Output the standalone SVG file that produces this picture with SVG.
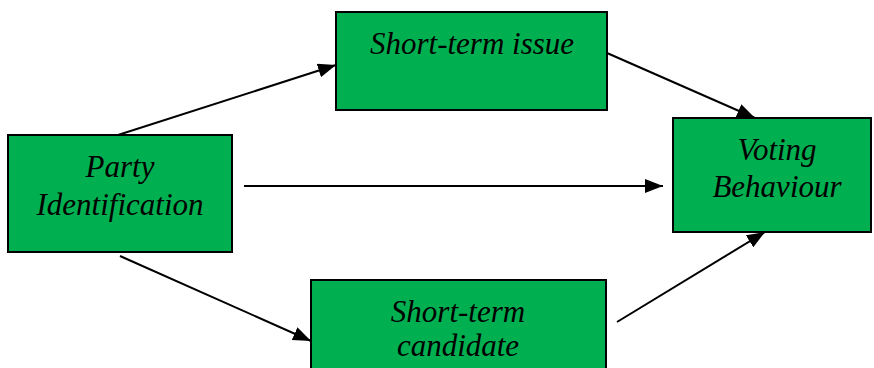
<svg xmlns="http://www.w3.org/2000/svg" width="874" height="368" viewBox="0 0 874 368">
  <defs>
    <marker id="arrow" viewBox="0 0 18 14" refX="18" refY="7" markerWidth="18" markerHeight="14" markerUnits="userSpaceOnUse" orient="auto">
      <path d="M0,0 L18,7 L0,14 Z" fill="#000"/>
    </marker>
  </defs>
  <style>
    .box { fill: #00B050; stroke: #000; stroke-width: 2; }
    .lbl { font-family: "Liberation Serif", "Times New Roman", serif; font-style: italic; font-size: 31px; fill: #000; text-anchor: middle; }
    .edge { stroke: #000; stroke-width: 2; fill: none; marker-end: url(#arrow); }
  </style>
  <rect width="874" height="368" fill="#fff"/>

  <g id="connectors">
    <line class="edge" x1="118" y1="135" x2="336" y2="65"/>
    <line class="edge" x1="244" y1="186" x2="663" y2="186"/>
    <line class="edge" x1="120" y1="256" x2="311" y2="341"/>
    <line class="edge" x1="607" y1="53" x2="755" y2="118"/>
    <line class="edge" x1="617" y1="322" x2="765" y2="232"/>
  </g>

  <g id="party">
    <rect class="box" x="8" y="135" width="224" height="117"/>
    <text class="lbl" x="120" y="177">Party</text>
    <text class="lbl" x="120" y="215">Identification</text>
  </g>

  <g id="issue">
    <rect class="box" x="336" y="12" width="271" height="98"/>
    <text class="lbl" x="472" y="54">Short-term issue</text>
  </g>

  <g id="candidate">
    <rect class="box" x="311" y="280" width="295" height="100"/>
    <text class="lbl" x="458" y="322">Short-term</text>
    <text class="lbl" x="458" y="356">candidate</text>
  </g>

  <g id="voting">
    <rect class="box" x="673" y="118" width="198" height="114"/>
    <text class="lbl" x="777" y="160">Voting</text>
    <text class="lbl" x="777" y="197">Behaviour</text>
  </g>
</svg>
